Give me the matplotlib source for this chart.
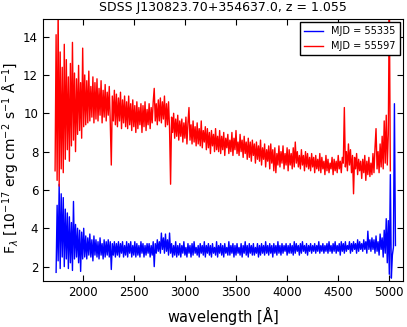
import numpy as np
import matplotlib
matplotlib.use('Agg')
import matplotlib.pyplot as plt

# spectra (rest-frame wavelength, 10 A steps)
red_start, red_step = 1730, 10
flux_55597 = [
    7.0, 14.1, 6.5, 15.6, 6.2, 13.2, 7.1, 12.4, 6.9, 13.6,
    7.6, 12.8, 8.1, 11.9, 7.5, 12.6, 8.3, 13.7, 8.6, 12.1,
    8.0, 11.8, 8.9, 12.5, 9.1, 11.6, 8.7, 13.4, 9.3, 12.0,
    9.4, 11.7, 9.5, 12.2, 9.6, 11.4, 9.8, 11.9, 9.5, 11.6,
    9.7, 11.8, 9.6, 11.3, 9.9, 11.7, 9.5, 11.2, 9.8, 11.5,
    9.6, 11.1, 9.9, 11.4, 9.5, 7.3, 10.9, 9.6, 11.2, 9.4,
    11.0, 9.3, 10.8, 9.6, 11.1, 9.2, 10.7, 9.5, 10.9, 9.3,
    10.6, 9.2, 10.9, 9.4, 10.5, 9.1, 10.7, 9.3, 10.4, 9.0,
    10.6, 9.2, 10.3, 9.4, 10.5, 9.0, 10.4, 9.3, 10.6, 9.1,
    10.2, 9.4, 10.5, 9.2, 10.3, 9.5, 10.6, 11.3, 9.6, 10.5,
    9.4, 10.7, 9.6, 10.8, 9.5, 10.6, 9.7, 10.9, 9.3, 10.5,
    9.4, 10.6, 9.2, 6.3, 9.8, 9.0, 10.0, 8.7, 9.7, 8.8,
    9.9, 8.6, 9.6, 8.8, 9.7, 8.5, 9.5, 8.7, 9.8, 8.4,
    9.5, 10.3, 8.6, 9.4, 8.4, 9.6, 8.5, 9.3, 8.3, 9.5,
    8.4, 9.2, 8.3, 9.6, 8.2, 9.1, 8.5, 9.3, 8.1, 9.2,
    8.2, 9.0, 7.9, 9.1, 8.3, 8.9, 8.0, 9.2, 8.1, 8.8,
    8.0, 9.1, 7.9, 8.8, 8.1, 9.0, 7.8, 8.7, 8.2, 8.9,
    7.9, 8.6, 8.0, 9.0, 7.8, 8.7, 8.1, 9.1, 7.9, 8.5,
    7.8, 8.9, 8.0, 8.6, 7.7, 8.8, 7.9, 8.5, 7.6, 8.7,
    7.7, 8.5, 7.5, 8.6, 7.8, 8.4, 7.4, 8.5, 7.6, 8.3,
    7.5, 8.6, 7.3, 8.2, 7.6, 8.4, 7.2, 8.1, 7.5, 8.3,
    7.1, 8.4, 7.4, 8.1, 7.0, 8.2, 6.9, 7.9, 7.3, 8.3,
    7.2, 8.0, 7.4, 8.3, 7.1, 7.9, 7.3, 8.2, 7.0, 8.1,
    7.3, 7.9, 7.1, 8.2, 7.2, 8.5, 7.4, 8.0, 7.2, 7.8,
    7.1, 8.1, 7.3, 7.8, 7.0, 8.0, 7.2, 7.9, 7.1, 7.7,
    7.0, 7.9, 7.2, 7.7, 6.9, 7.8, 7.1, 7.6, 7.0, 7.9,
    6.9, 7.7, 7.1, 7.5, 6.8, 7.8, 7.0, 7.6, 6.9, 7.4,
    7.1, 7.7, 6.8, 7.6, 7.0, 7.5, 6.9, 7.8, 7.1, 7.5,
    6.9, 7.7, 7.4, 10.3, 7.2, 8.0, 7.0, 8.4, 7.3, 8.1,
    6.9, 7.8, 5.8, 7.7, 7.1, 7.9, 6.8, 7.6, 7.0, 7.5,
    6.6, 7.6, 6.9, 7.8, 6.5, 7.5, 6.8, 7.7, 6.7, 7.4,
    6.8, 7.9, 6.9, 8.2, 9.2, 7.1, 8.0, 6.9, 8.4, 7.2,
    8.8, 7.1, 9.6, 7.4, 9.9, 7.3, 8.9, 16.0, 7.0,
]

blue_start, blue_step = 1740, 10
flux_55335 = [
    1.7, 5.2, 2.3, 6.3, 1.9, 5.8, 2.5, 5.6, 2.0, 5.0,
    2.4, 4.8, 1.9, 4.6, 2.2, 4.3, 1.8, 5.4, 2.4, 4.2,
    2.5, 4.0, 2.2, 3.9, 1.75, 3.8, 2.4, 4.0, 2.5, 3.6,
    2.4, 3.5, 2.6, 3.7, 2.5, 3.4, 2.3, 3.6, 2.6, 3.4,
    2.5, 3.3, 2.4, 3.5, 2.6, 3.2, 2.4, 3.4, 2.5, 3.3,
    2.6, 3.4, 2.5, 3.3, 1.85, 3.2, 2.6, 3.3, 2.5, 3.2,
    2.6, 3.3, 2.5, 3.2, 2.7, 3.3, 2.5, 3.1, 2.6, 3.3,
    2.5, 3.2, 2.7, 3.3, 2.5, 3.1, 2.6, 3.3, 2.5, 3.2,
    2.6, 3.1, 2.5, 3.3, 2.7, 3.2, 2.5, 3.1, 2.6, 3.2,
    2.7, 3.2, 2.5, 3.1, 2.6, 3.3, 2.0, 3.2, 2.7, 3.4,
    2.8, 3.3, 2.7, 3.75, 2.9, 3.5, 2.7, 3.7, 2.8, 3.4,
    2.6, 3.75, 2.7, 3.2, 2.5, 3.1, 2.6, 3.3, 2.5, 3.1,
    2.6, 3.2, 2.5, 3.1, 2.7, 3.3, 2.6, 3.0, 2.5, 3.2,
    2.7, 3.1, 2.5, 3.2, 2.6, 3.3, 2.7, 3.0, 2.6, 3.1,
    2.5, 3.2, 2.7, 3.1, 2.6, 3.3, 2.5, 3.1, 2.7, 3.2,
    2.6, 3.1, 2.5, 3.2, 2.7, 3.0, 2.6, 3.3, 2.5, 3.1,
    2.7, 3.2, 2.6, 3.1, 2.5, 3.2, 2.7, 3.0, 2.6, 3.3,
    2.6, 3.1, 2.7, 3.2, 2.5, 3.1, 2.6, 3.2, 2.7, 3.0,
    2.6, 3.2, 2.5, 3.1, 2.7, 3.3, 2.6, 3.1, 2.5, 3.2,
    2.7, 3.1, 2.6, 3.2, 2.6, 3.0, 2.7, 3.2, 2.5, 3.1,
    2.6, 3.2, 2.7, 3.1, 2.6, 3.3, 2.7, 3.1, 2.6, 3.2,
    2.7, 3.1, 2.5, 3.2, 2.7, 3.1, 2.6, 3.3, 2.7, 3.1,
    2.6, 3.2, 2.7, 3.1, 2.8, 3.2, 2.6, 3.1, 2.7, 3.2,
    2.7, 3.1, 2.6, 3.3, 2.7, 3.2, 2.8, 3.1, 2.6, 3.2,
    2.7, 3.3, 2.8, 3.1, 2.7, 3.2, 2.6, 3.1, 2.8, 3.2,
    2.7, 3.1, 2.8, 3.2, 2.7, 3.1, 2.8, 3.3, 2.7, 3.1,
    2.8, 3.2, 2.7, 3.1, 2.8, 3.2, 2.7, 3.3, 2.8, 3.1,
    2.7, 3.2, 2.8, 3.3, 2.7, 3.1, 2.8, 3.2, 2.6, 3.3,
    2.8, 3.2, 2.7, 3.3, 2.8, 3.1, 2.9, 3.3, 2.7, 3.2,
    2.8, 3.3, 2.9, 3.2, 2.7, 3.4, 2.8, 3.3, 2.9, 3.2,
    2.8, 3.4, 2.9, 3.3, 2.7, 3.85, 2.9, 3.4, 2.8, 3.5,
    2.9, 3.4, 2.7, 3.6, 2.8, 3.3, 2.6, 3.7, 2.9, 3.5,
    2.5, 3.9, 2.7, 4.5, 2.2, 4.4, 1.6, 6.8, 1.4, 2.6,
    3.0, 10.5, 3.1,
]

labels = ['MJD = 55335', 'MJD = 55597']
title = 'SDSS J130823.70+354637.0, z = 1.055'

wave_blue = blue_start + blue_step * np.arange(len(flux_55335))
wave_red = red_start + red_step * np.arange(len(flux_55597))

fig = plt.figure(figsize=(4.07, 3.27), dpi=100)
ax = fig.add_axes([0.1057, 0.1407, 0.8845, 0.8012])

ax.plot(wave_blue, flux_55335, color='b', lw=1.0, label=labels[0])
ax.plot(wave_red, flux_55597, color='r', lw=1.0, label=labels[1])

ax.set_xlim(1612, 5134)
ax.set_ylim(1.25, 14.92)
ax.set_xticks([2000, 2500, 3000, 3500, 4000, 4500, 5000])
ax.set_yticks([2, 4, 6, 8, 10, 12, 14])
ax.tick_params(direction='in', top=True, right=True, length=4, labelsize=8.5)

ax.set_xlabel(r'wavelength [$\mathrm{\AA}$]', fontsize=10.5)
ax.set_ylabel(r'F$_\lambda$ [10$^{-17}$ erg cm$^{-2}$ s$^{-1}$ $\mathrm{\AA}^{-1}$]',
              fontsize=10)
ax.yaxis.set_label_coords(-0.058, 0.47)
ax.set_title(title, fontsize=9)

leg = ax.legend(loc='upper right', fontsize=7, fancybox=False, framealpha=1,
                handlelength=2.0, borderaxespad=0.35)
leg.get_frame().set_edgecolor('black')

fig.savefig('out.png', dpi=100)
